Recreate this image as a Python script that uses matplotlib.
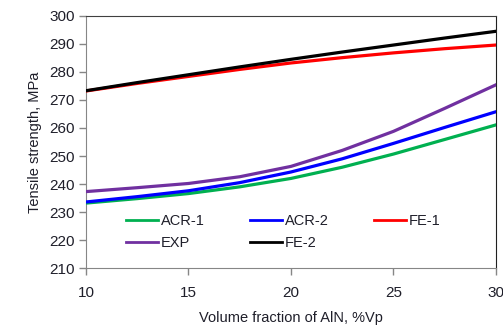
import matplotlib
matplotlib.use("Agg")
import matplotlib.pyplot as plt

plt.rcParams['font.family'] = ['Liberation Sans', 'DejaVu Sans']

# Volume fraction of AlN (%Vp)
vp = [10, 12.5, 15, 17.5, 20, 22.5, 25, 27.5, 30]

# Tensile strength (MPa)
acr1 = [233.2, 234.8, 236.6, 239.0, 242.0, 246.0, 250.7, 255.9, 261.1]
acr2 = [233.6, 235.5, 237.6, 240.5, 244.3, 249.0, 254.5, 260.2, 265.8]
fe1 = [273.2, 275.9, 278.4, 280.9, 283.2, 285.1, 286.8, 288.3, 289.6]
exp_ = [237.3, 238.7, 240.2, 242.6, 246.3, 252.0, 258.8, 267.0, 275.4]
fe2 = [273.3, 276.2, 279.0, 281.8, 284.5, 287.1, 289.6, 292.1, 294.5]

series = [
    ("ACR-1", acr1, "#00b050"),
    ("EXP", exp_, "#7030a0"),
    ("ACR-2", acr2, "#0000ff"),
    ("FE-2", fe2, "#000000"),
    ("FE-1", fe1, "#ff0000"),
]
draw_order = ["ACR-1", "ACR-2", "EXP", "FE-1", "FE-2"]

text_col = "#1f1f2a"

fig = plt.figure(figsize=(5.03, 3.31), dpi=100)
ax = fig.add_axes([0.171, 0.190, 0.815, 0.762])

lines = {}
for name, vals, col in series:
    ln, = ax.plot(vp, vals, color=col, lw=2.3, label=name,
                  zorder=3 + draw_order.index(name))
    lines[name] = ln

ax.set_xlim(10, 30)
ax.set_ylim(210, 300)
ax.set_xticks([10, 15, 20, 25, 30])
ax.set_yticks(range(210, 301, 10))

ax.tick_params(axis='both', direction='out', length=5, width=1,
               color='#868686', labelsize=11, labelcolor=text_col, pad=3)
ax.tick_params(axis='x', pad=8)

ax.spines['left'].set_color('#868686')
ax.spines['bottom'].set_color('#868686')
ax.spines['top'].set_color('#404040')
ax.spines['right'].set_color('#202020')

ax.set_xlabel("Volume fraction of AlN, %Vp", fontsize=10.5, color=text_col,
              labelpad=8)
ax.set_ylabel("Tensile strength, MPa", fontsize=10.5, color=text_col,
              labelpad=5)

handles = [lines[n] for n, _, _ in series]
leg = ax.legend(handles=handles, labels=[n for n, _, _ in series],
                ncol=3, loc='lower left', bbox_to_anchor=(0.065, 0.02),
                frameon=False, fontsize=10.5, handlelength=2.2,
                handletextpad=0.2, columnspacing=3.1, labelspacing=0.55)
for t in leg.get_texts():
    t.set_color(text_col)
for h in leg.legend_handles:
    h.set_linewidth(2)

fig.savefig("out.png", dpi=100)
